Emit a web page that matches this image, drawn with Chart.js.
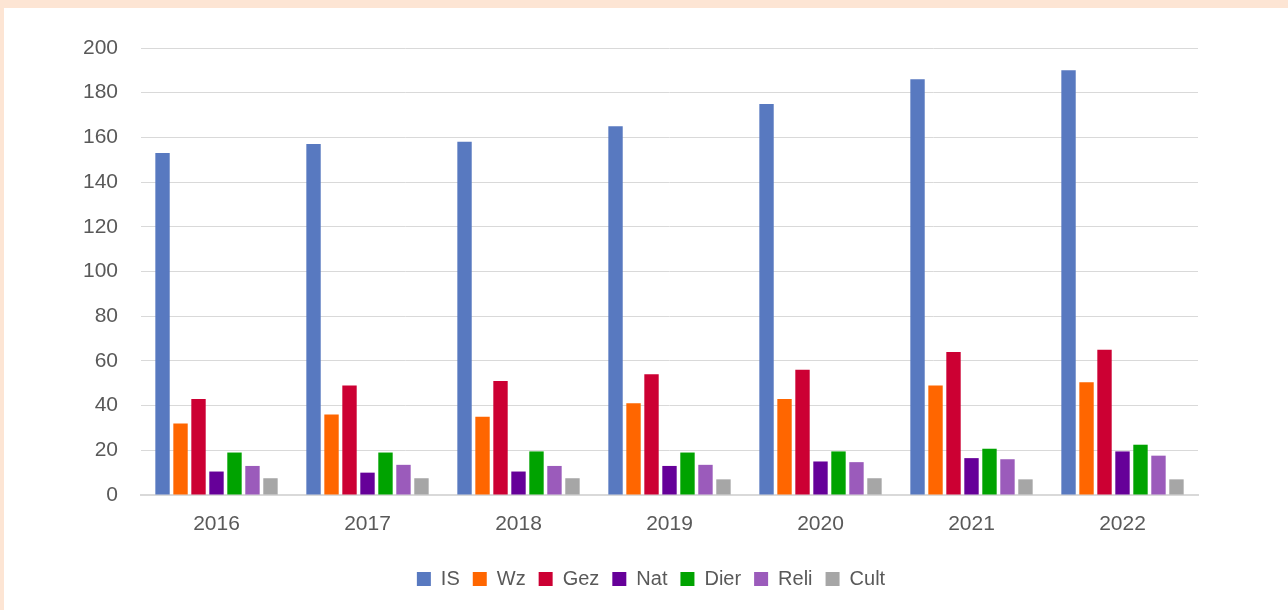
<!DOCTYPE html>
<html>
<head>
<meta charset="utf-8">
<script src="https://cdn.jsdelivr.net/npm/chart.js@4.4.0/dist/chart.umd.min.js"></script>
<style>
  html, body { margin: 0; padding: 0; background: #fde5d4; }
  .frame { position: absolute; left: 4px; top: 8px; width: 1284px; height: 602px; background: #ffffff; }
  canvas { display: block; }
</style>
</head>
<body>
<div class="frame"><canvas id="chart" width="1284" height="602"></canvas></div>
<script>
// Chart data
const years = ['2016', '2017', '2018', '2019', '2020', '2021', '2022'];
const seriesNames = ['IS', 'Wz', 'Gez', 'Nat', 'Dier', 'Reli', 'Cult'];
const seriesColors = ['#5879c0', '#ff6600', '#cc0033', '#660099', '#00a300', '#9b5bbb', '#a6a6a6'];

const isVals   = [153, 157, 158, 165, 175, 186, 190];
const wzVals   = [32, 36, 35, 41, 43, 49, 50.5];
const gezVals  = [43, 49, 51, 54, 56, 64, 65];
const natVals  = [10.5, 10, 10.5, 13, 15, 16.5, 19.5];
const dierVals = [19, 19, 19.5, 19, 19.5, 20.7, 22.5];
const reliVals = [13, 13.5, 13, 13.5, 14.7, 16, 17.6];
const cultVals = [7.5, 7.5, 7.5, 7, 7.5, 7, 7];

const yTicks = [0, 20, 40, 60, 80, 100, 120, 140, 160, 180, 200];

const allValues = [isVals, wzVals, gezVals, natVals, dierVals, reliVals, cultVals];

const textColor = '#595959';
const gridColor = '#d9d9d9';
const family = '"Liberation Sans", Arial, sans-serif';

const ctx = document.getElementById('chart').getContext('2d');

new Chart(ctx, {
    type: 'bar',
    data: {
        labels: years,
        datasets: seriesNames.map((name, i) => ({
            label: name,
            data: allValues[i],
            backgroundColor: seriesColors[i],
            borderWidth: 0,
            categoryPercentage: 0.834,
            barPercentage: 0.8
        }))
    },
    options: {
        responsive: false,
        animation: false,
        layout: {
            padding: { left: 10, right: 0, top: 40, bottom: 11 }
        },
        plugins: {
            legend: {
                position: 'bottom',
                labels: {
                    color: textColor,
                    font: { family: family, size: 20 },
                    boxWidth: 14,
                    boxHeight: 14,
                    padding: 13
                }
            },
            tooltip: { enabled: false }
        },
        scales: {
            x: {
                grid: { display: false, drawTicks: false },
                border: { display: true, color: gridColor, width: 2 },
                ticks: { color: textColor, font: { family: family, size: 21 }, padding: 17 },
                afterFit: (scale) => { scale.height = 61; }
            },
            y: {
                min: 0,
                max: 200,
                afterBuildTicks: (scale) => {
                    scale.ticks = yTicks.map(v => ({ value: v }));
                },
                grid: { color: gridColor, lineWidth: 1, drawTicks: false },
                border: { display: false },
                ticks: { color: textColor, font: { family: family, size: 21 }, padding: 23 },
                afterFit: (scale) => { scale.width = 127; }
            },
            // empty right-hand spacer so the legend centres on the full width
            spacer: {
                type: 'linear',
                position: 'right',
                display: true,
                grid: { display: false, drawTicks: false },
                border: { display: false },
                ticks: { display: false },
                afterFit: (scale) => { scale.width = 90; }
            }
        }
    }
});
</script>
</body>
</html>
